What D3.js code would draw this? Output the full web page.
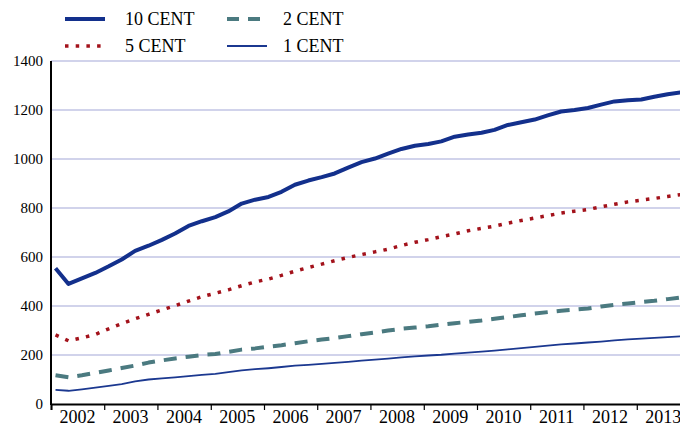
<!DOCTYPE html>
<html>
<head>
<meta charset="utf-8">
<script src="https://cdn.jsdelivr.net/npm/d3@7"></script>
<style>
  body { margin: 0; background: #fff; }
  svg { display: block; font-family: "Liberation Serif", "Times New Roman", serif; }
</style>
</head>
<body>
<div id="chart"></div>
<script>
// quarterly readings, Feb 2002 .. Nov 2013
const dates = d3.timeMonth.range(new Date(2002, 1, 1), new Date(2013, 11, 1), 3);

const cent10 = [554, 490, 513, 535, 562, 590, 625, 646, 670, 696, 727, 746,
  763, 786, 818, 834, 845, 866, 895, 912, 926, 941, 965, 987,
  1002, 1022, 1041, 1054, 1061, 1072, 1091, 1100, 1107, 1119, 1139, 1150,
  1161, 1178, 1194, 1200, 1208, 1222, 1235, 1240, 1243, 1254, 1264, 1272];
const cent5 = [282, 258, 270, 284, 307, 328, 348, 366, 384, 401, 420, 438,
  452, 466, 483, 498, 510, 525, 542, 557, 571, 585, 598, 610,
  621, 632, 647, 660, 671, 683, 694, 707, 717, 726, 738, 749,
  759, 769, 779, 787, 794, 805, 815, 825, 832, 839, 847, 855];
const cent2 = [117, 109, 117, 127, 137, 147, 157, 169, 178, 186, 193, 200,
  204, 213, 222, 227, 234, 240, 248, 256, 263, 269, 277, 285,
  292, 300, 307, 312, 317, 324, 330, 335, 341, 348, 355, 362,
  369, 375, 381, 385, 390, 398, 405, 410, 416, 421, 428, 435];
const cent1 = [58, 54, 60, 67, 74, 81, 92, 100, 105, 109, 114, 119,
  123, 130, 137, 142, 146, 151, 157, 160, 164, 168, 172, 177,
  181, 185, 190, 194, 198, 201, 206, 210, 214, 218, 223, 228,
  233, 238, 243, 247, 251, 255, 260, 264, 267, 270, 273, 276];

const years = d3.range(2002, 2014);
const yTicks = [0, 200, 400, 600, 800, 1000, 1200, 1400];

const series = [
  { name: "10 CENT", values: cent10, color: "#13308c", width: 4, dash: null },
  { name: "5 CENT", values: cent5, color: "#a3121b", width: 3.5, dash: "3.5,7.2" },
  { name: "2 CENT", values: cent2, color: "#4b7a80", width: 4, dash: "13,9" },
  { name: "1 CENT", values: cent1, color: "#1b3890", width: 1.8, dash: null }
];

const W = 680, H = 426;
const plotLeft = 51, plotTop = 61, plotBottom = 404;

const svg = d3.select("#chart").append("svg")
  .attr("width", W)
  .attr("height", H);

const x = d3.scaleTime()
  .domain([new Date(2002, 0, 1), new Date(2014, 0, 1)])
  .range([plotLeft, 690]);

const y = d3.scaleLinear()
  .domain([0, 1400])
  .range([plotBottom, plotTop]);

// gridlines
svg.append("g")
  .selectAll("line")
  .data(yTicks.filter((d) => d > 0))
  .enter()
  .append("line")
  .attr("x1", plotLeft)
  .attr("x2", W)
  .attr("y1", (d) => y(d))
  .attr("y2", (d) => y(d))
  .attr("stroke", "#a3a7d8")
  .attr("stroke-width", 1.2);

// y labels
svg.append("g")
  .selectAll("text")
  .data(yTicks)
  .enter()
  .append("text")
  .attr("x", 43)
  .attr("y", (d) => y(d))
  .attr("dy", "0.35em")
  .attr("text-anchor", "end")
  .attr("font-size", 15)
  .text((d) => d);

// lines
const line = d3.line()
  .x((d, i) => x(dates[i]))
  .y((d) => y(d));

svg.append("g")
  .selectAll("path")
  .data(series)
  .enter()
  .append("path")
  .attr("d", (d) => line(d.values))
  .attr("fill", "none")
  .attr("stroke", (d) => d.color)
  .attr("stroke-width", (d) => d.width)
  .attr("stroke-dasharray", (d) => d.dash)
  .attr("stroke-linejoin", "round");

// x axis with year boundary ticks
const xAxis = svg.append("g")
  .attr("transform", `translate(0,${plotBottom})`)
  .call(d3.axisBottom(x).ticks(d3.timeYear.every(1)).tickSize(6).tickFormat(""));
xAxis.select(".domain").attr("stroke", "#000").attr("stroke-width", 2);
xAxis.selectAll(".tick line").attr("stroke", "#000").attr("stroke-width", 1.2);

svg.append("g")
  .selectAll("text")
  .data(years)
  .enter()
  .append("text")
  .attr("x", (d) => x(new Date(d, 6, 1)))
  .attr("y", 423)
  .attr("text-anchor", "middle")
  .attr("font-size", 18)
  .text((d) => d);

// y axis line
svg.append("line")
  .attr("x1", plotLeft).attr("x2", plotLeft)
  .attr("y1", plotTop).attr("y2", plotBottom + 1)
  .attr("stroke", "#000")
  .attr("stroke-width", 2);

// legend
const legendPos = [
  { x: 65, y: 19 }, { x: 65, y: 46 }, { x: 227, y: 19 }, { x: 227, y: 46 }
];
const legend = svg.append("g")
  .selectAll("g")
  .data(series)
  .enter()
  .append("g")
  .attr("transform", (d, i) => `translate(${legendPos[i].x},${legendPos[i].y})`);

legend.append("line")
  .attr("x1", 0)
  .attr("x2", (d, i) => (i === 2 ? 34 : 40))
  .attr("stroke", (d) => d.color)
  .attr("stroke-width", (d) => d.width)
  .attr("stroke-dasharray", (d, i) => (i === 2 ? "12,9" : d.dash));

legend.append("text")
  .attr("x", (d, i) => (i < 2 ? 60 : 56))
  .attr("dy", "0.35em")
  .attr("font-size", 18)
  .text((d) => d.name);
</script>
</body>
</html>
